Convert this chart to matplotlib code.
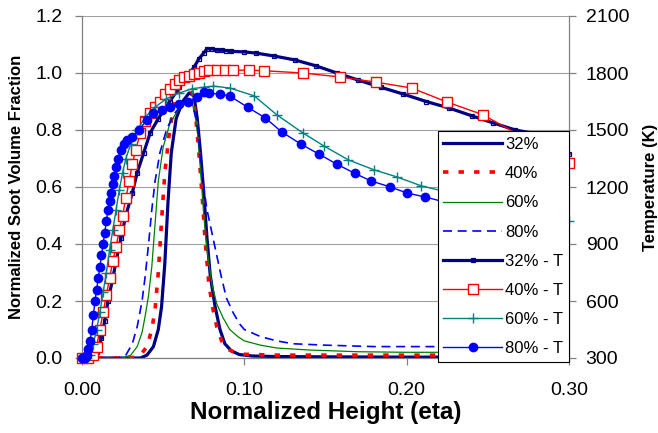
#!/usr/bin/env python3
# Normalized soot volume fraction and temperature vs normalized height
import numpy as np
import matplotlib
matplotlib.use("Agg")
import matplotlib.pyplot as plt
from matplotlib.ticker import FormatStrFormatter, MultipleLocator

plt.rcParams['font.family'] = ['Liberation Sans', 'DejaVu Sans']

# soot volume fraction (left axis)
eta_32 = [0.000, 0.036, 0.040, 0.044, 0.047, 0.049, 0.051, 0.053, 0.055, 0.058, 0.062, 0.066,
          0.069, 0.071, 0.073, 0.075, 0.077, 0.079, 0.082, 0.085, 0.088, 0.092, 0.097, 0.105,
          0.12, 0.15, 0.20, 0.25, 0.30]
fv_32 = [0, 0, 0.01, 0.04, 0.10, 0.18, 0.33, 0.55, 0.72, 0.84, 0.90, 0.93,
         0.92, 0.84, 0.72, 0.58, 0.42, 0.29, 0.18, 0.10, 0.05, 0.025, 0.012, 0.007,
         0.005, 0.004, 0.003, 0.003, 0.003]

eta_40 = [0.000, 0.030, 0.036, 0.040, 0.043, 0.045, 0.047, 0.049, 0.051, 0.054, 0.057, 0.060,
          0.063, 0.066, 0.068, 0.070, 0.072, 0.074, 0.076, 0.078, 0.080, 0.083, 0.086, 0.090,
          0.095, 0.10, 0.12, 0.15, 0.20, 0.25, 0.30]
fv_40 = [0, 0, 0.01, 0.04, 0.10, 0.17, 0.30, 0.48, 0.65, 0.80, 0.90, 0.96,
         0.98, 0.97, 0.93, 0.85, 0.72, 0.57, 0.40, 0.27, 0.19, 0.11, 0.06, 0.03,
         0.018, 0.013, 0.010, 0.010, 0.010, 0.010, 0.010]

eta_60 = [0.000, 0.025, 0.030, 0.034, 0.037, 0.039, 0.041, 0.043, 0.045, 0.047, 0.050, 0.054,
          0.058, 0.062, 0.066, 0.069, 0.071, 0.073, 0.075, 0.077, 0.080, 0.083, 0.087, 0.091,
          0.096, 0.10, 0.11, 0.12, 0.14, 0.17, 0.20, 0.25, 0.30]
fv_60 = [0, 0, 0.01, 0.04, 0.09, 0.15, 0.22, 0.32, 0.47, 0.62, 0.74, 0.82,
         0.86, 0.89, 0.90, 0.88, 0.80, 0.66, 0.50, 0.38, 0.26, 0.19, 0.14, 0.10,
         0.075, 0.06, 0.045, 0.035, 0.028, 0.022, 0.020, 0.020, 0.020]

eta_80 = [0.000, 0.022, 0.027, 0.031, 0.034, 0.037, 0.039, 0.041, 0.043, 0.045, 0.048, 0.052,
          0.056, 0.060, 0.064, 0.068, 0.071, 0.073, 0.075, 0.077, 0.080, 0.083, 0.086, 0.089,
          0.093, 0.097, 0.10, 0.11, 0.12, 0.13, 0.15, 0.18, 0.22, 0.26, 0.30]
fv_80 = [0, 0, 0.01, 0.05, 0.11, 0.20, 0.29, 0.40, 0.52, 0.62, 0.72, 0.80,
         0.85, 0.88, 0.90, 0.89, 0.82, 0.70, 0.60, 0.52, 0.44, 0.36, 0.28, 0.21,
         0.16, 0.12, 0.10, 0.075, 0.06, 0.05, 0.045, 0.04, 0.04, 0.038, 0.038]

# temperature (right axis, K)
eta_32T = [0.000, 0.006, 0.009, 0.012, 0.014, 0.016, 0.019, 0.021, 0.024, 0.027, 0.031, 0.034,
           0.038, 0.042, 0.047, 0.054, 0.060, 0.065, 0.069, 0.072, 0.075, 0.077, 0.080, 0.083,
           0.086, 0.089, 0.092, 0.100, 0.107, 0.118, 0.131, 0.144, 0.157, 0.170, 0.184, 0.198,
           0.212, 0.226, 0.240, 0.253, 0.267, 0.281, 0.300]
T_32 = [300, 300, 330, 405, 495, 600, 720, 810, 930, 1050, 1170, 1275,
        1380, 1485, 1560, 1650, 1725, 1785, 1830, 1875, 1905, 1928, 1928, 1920,
        1920, 1917, 1914, 1911, 1905, 1890, 1869, 1838, 1800, 1763, 1725, 1689,
        1650, 1616, 1575, 1538, 1500, 1478, 1373]

eta_40T = [0.000, 0.004, 0.007, 0.009, 0.011, 0.013, 0.015, 0.017, 0.019, 0.021, 0.023, 0.025,
           0.027, 0.029, 0.031, 0.033, 0.036, 0.039, 0.042, 0.045, 0.048, 0.051, 0.054, 0.057,
           0.060, 0.063, 0.066, 0.069, 0.072, 0.075, 0.078, 0.083, 0.088, 0.093, 0.103, 0.112,
           0.136, 0.159, 0.181, 0.203, 0.225, 0.247, 0.300]
T_40 = [300, 300, 315, 360, 450, 540, 630, 720, 810, 885, 975, 1050,
        1140, 1230, 1320, 1395, 1485, 1545, 1590, 1620, 1650, 1688, 1718, 1740,
        1763, 1778, 1785, 1797, 1800, 1808, 1815, 1815, 1815, 1815, 1815, 1812,
        1800, 1779, 1752, 1721, 1647, 1580, 1328]

eta_60T = [0.000, 0.003, 0.005, 0.007, 0.009, 0.011, 0.013, 0.015, 0.017, 0.019, 0.021, 0.023,
           0.025, 0.027, 0.030, 0.034, 0.039, 0.045, 0.052, 0.060, 0.068, 0.075, 0.081, 0.091,
           0.106, 0.120, 0.136, 0.149, 0.164, 0.180, 0.194, 0.209, 0.230, 0.260, 0.300]
T_60 = [300, 300, 315, 375, 450, 540, 645, 750, 870, 975, 1080, 1185,
        1275, 1350, 1425, 1500, 1568, 1620, 1665, 1695, 1718, 1725, 1731, 1721,
        1680, 1580, 1485, 1416, 1343, 1290, 1253, 1206, 1163, 1103, 1020]

eta_80T = [0.000, 0.002, 0.003, 0.004, 0.005, 0.006, 0.007, 0.008, 0.009, 0.010, 0.011, 0.012,
           0.013, 0.014, 0.015, 0.016, 0.017, 0.018, 0.019, 0.020, 0.021, 0.022, 0.024, 0.026,
           0.028, 0.031, 0.035, 0.040, 0.044, 0.049, 0.054, 0.060, 0.065, 0.071, 0.075, 0.078,
           0.085, 0.091, 0.102, 0.113, 0.123, 0.135, 0.146, 0.157, 0.168, 0.178, 0.190, 0.200,
           0.211, 0.225, 0.240, 0.255]
T_80 = [300, 300, 315, 345, 390, 450, 525, 600, 660, 720, 780, 840,
        900, 960, 1020, 1080, 1125, 1170, 1215, 1260, 1305, 1350, 1395, 1425,
        1448, 1463, 1500, 1553, 1590, 1605, 1620, 1635, 1650, 1673, 1700, 1695,
        1688, 1679, 1620, 1563, 1490, 1425, 1373, 1320, 1272, 1232, 1200, 1169,
        1148, 1118, 1088, 1058]

NAVY = '#000080'
RED = '#FF0000'
GREEN = '#008000'
BLUE = '#0000FF'
TEAL = '#008080'
AXC = '#808080'

fig = plt.figure(figsize=(6.58, 4.33), dpi=100)
ax = fig.add_axes([82 / 658, 75 / 433, 487 / 658, 342 / 433])
ax2 = ax.twinx()

h = []
h += ax.plot(eta_32, fv_32, color=NAVY, lw=2.3, label='32%')
h += ax.plot(eta_40, fv_40, color=RED, lw=2.6, dashes=(1.5, 2.8), label='40%')
h += ax.plot(eta_60, fv_60, color=GREEN, lw=0.9, label='60%')
h += ax.plot(eta_80, fv_80, color=BLUE, lw=1.2, dashes=(5.4, 3.4), label='80%')

h += ax2.plot(eta_32T, T_32, color=NAVY, lw=2.3, marker='s', ms=3.5, mfc='none', mec=NAVY,
              mew=0.9, label='32% - T', clip_on=False)
h += ax2.plot(eta_40T, T_40, color=RED, lw=1.0, marker='s', ms=6.5, mfc='white', mec=RED,
              mew=1.0, label='40% - T', clip_on=False)
h += ax2.plot(eta_60T, T_60, color=TEAL, lw=1.0, marker='+', ms=7, mec=TEAL,
              mew=1.0, label='60% - T', clip_on=False)
h += ax2.plot(eta_80T, T_80, color=BLUE, lw=1.0, marker='o', ms=6, mfc=BLUE, mec=BLUE,
              label='80% - T', clip_on=False)

ax.set_xlim(0, 0.30)
ax.set_ylim(0, 1.2)
ax2.set_ylim(300, 2100)
ax.xaxis.set_major_locator(MultipleLocator(0.1))
ax.xaxis.set_major_formatter(FormatStrFormatter('%.2f'))
ax.yaxis.set_major_locator(MultipleLocator(0.2))
ax.yaxis.set_major_formatter(FormatStrFormatter('%.1f'))
ax2.yaxis.set_major_locator(MultipleLocator(300))

ax.grid(axis='y', color='#A0A0A0', lw=0.8)
ax.set_axisbelow(True)

for a in (ax, ax2):
    a.spines['top'].set_visible(False)
    for s in ('left', 'right', 'bottom'):
        a.spines[s].set_color(AXC)
        a.spines[s].set_linewidth(0.9)
ax.spines['right'].set_visible(False)
ax2.spines['left'].set_visible(False)
ax2.spines['bottom'].set_visible(False)

ax.tick_params(axis='y', direction='out', length=5, width=0.9, color=AXC, labelsize=14, pad=9)
ax.tick_params(axis='x', direction='out', length=5, width=0.9, color=AXC, labelsize=14, pad=12)
ax2.tick_params(axis='y', direction='out', length=5, width=0.9, color=AXC, labelsize=14, pad=7)

ax.set_xlabel('Normalized Height (eta)', fontsize=17.5, fontweight='bold', labelpad=2)
ax.set_ylabel('Normalized Soot Volume Fraction', fontsize=12, fontweight='bold', labelpad=8)
ax2.set_ylabel('Temperature (K)', fontsize=12, fontweight='bold', labelpad=10)

leg = ax2.legend(handles=h, loc='lower right', bbox_to_anchor=(1.0, -0.012),
                 fontsize=12, frameon=True, fancybox=False, handlelength=3.5,
                 handletextpad=0.2, labelspacing=0.85, borderpad=0.35, borderaxespad=0)
leg.get_frame().set_edgecolor('black')
leg.get_frame().set_linewidth(0.8)
leg.get_frame().set_alpha(1)

fig.savefig('out.png', dpi=100)
